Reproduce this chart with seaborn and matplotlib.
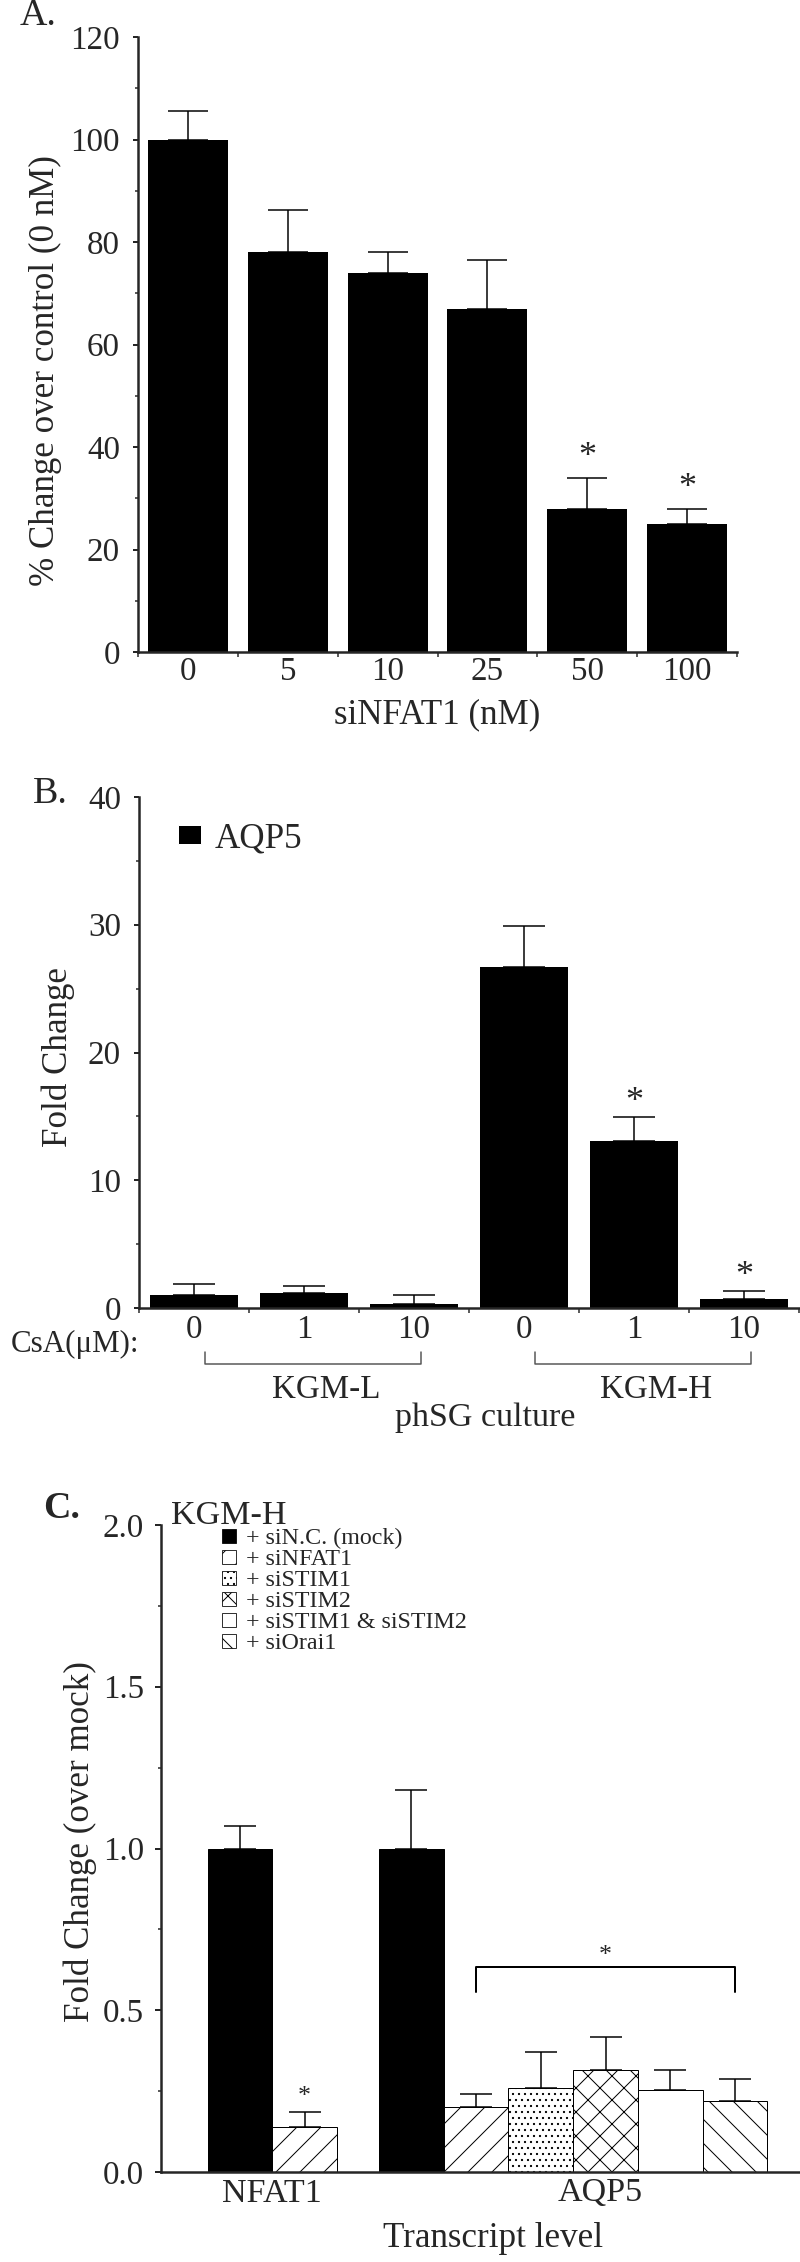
import numpy as np
import pandas as pd
import matplotlib
matplotlib.use('Agg')
import matplotlib.pyplot as plt
import matplotlib.transforms as mtransforms
from matplotlib.patches import Patch
from matplotlib.ticker import MultipleLocator, FormatStrFormatter
import seaborn as sns

# ---- data: panel A (siNFAT1 dose) ----
a_doses = ['0', '5', '10', '25', '50', '100']
a_values = [100, 78, 74, 67, 28, 25]
a_err = [5.6, 8.3, 4.0, 9.5, 6.0, 3.0]
a_sig = [False, False, False, False, True, True]

# ---- data: panel B (CsA in KGM-L / KGM-H) ----
b_csa = ['0', '1', '10', '0', '1', '10']
b_media = ['KGM-L', 'KGM-L', 'KGM-L', 'KGM-H', 'KGM-H', 'KGM-H']
b_values = [1.0, 1.2, 0.29, 26.7, 13.1, 0.68]
b_err = [0.91, 0.52, 0.70, 3.2, 1.85, 0.63]
b_sig = [False, False, False, False, True, True]

# ---- data: panel C (knockdowns, transcript level) ----
c_treatments = ['+ siN.C. (mock)', '+ siNFAT1', '+ siSTIM1', '+ siSTIM2',
                '+ siSTIM1 & siSTIM2', '+ siOrai1']
c_groups = ['NFAT1', 'AQP5']
c_nfat1_treat = ['+ siN.C. (mock)', '+ siNFAT1']
c_nfat1_values = [1.0, 0.14]
c_nfat1_err = [0.07, 0.045]
c_nfat1_sig = [False, True]
c_aqp5_treat = c_treatments
c_aqp5_values = [1.0, 0.20, 0.26, 0.316, 0.253, 0.22]
c_aqp5_err = [0.18, 0.041, 0.11, 0.10, 0.062, 0.067]

# styles
c_fill = {t: 'white' for t in c_treatments}
c_fill['+ siN.C. (mock)'] = 'black'
c_hatch = {'+ siN.C. (mock)': '', '+ siNFAT1': '/', '+ siSTIM1': '..',
           '+ siSTIM2': 'x', '+ siSTIM1 & siSTIM2': '', '+ siOrai1': '\\'}

sns.set_style('ticks')
plt.rcParams['font.family'] = ['Liberation Serif', 'DejaVu Serif']
plt.rcParams['hatch.linewidth'] = 1.0
plt.rcParams['axes.linewidth'] = 2.5

W, H = 800, 2262
fig = plt.figure(figsize=(W / 72, H / 72), dpi=72)


def px_axes(left, top, right, bottom):
    return fig.add_axes([left / W, 1 - bottom / H, (right - left) / W, (bottom - top) / H])


def style_axis(ax, tick_size):
    sns.despine(ax=ax)
    for s in ['left', 'bottom']:
        ax.spines[s].set_linewidth(2.5)
    ax.tick_params(axis='y', which='major', length=5, width=2, pad=13, labelsize=tick_size)
    ax.tick_params(axis='y', which='minor', length=3, width=1.5)


# ================= Panel A =================
ax_a = px_axes(138, 37, 737, 652)
df_a = pd.DataFrame({'dose': a_doses, 'value': a_values})
sns.barplot(data=df_a, x='dose', y='value', order=a_doses, color='black',
            saturation=1, width=0.8, errorbar=None, linewidth=0, ax=ax_a)
xa = np.arange(len(a_values))
ax_a.errorbar(xa, a_values, yerr=[np.zeros(len(a_err)), a_err], fmt='none',
              ecolor='black', elinewidth=1.5, capsize=20, capthick=1.5)
for i, s in enumerate(a_sig):
    if s:
        ax_a.annotate('*', xy=(i, a_values[i] + a_err[i]), xytext=(0, 12),
                      textcoords='offset points', ha='center', va='baseline', fontsize=36)
ax_a.set_xlim(-0.5, len(a_values) - 0.5)
ax_a.set_ylim(0, 120)
ax_a.yaxis.set_major_locator(MultipleLocator(20))
ax_a.yaxis.set_minor_locator(MultipleLocator(10))
ax_a.set_xticks(np.arange(-0.5, len(a_values), 1), minor=True)
style_axis(ax_a, 33)
ax_a.tick_params(axis='x', which='major', length=0, pad=4, labelsize=33)
ax_a.tick_params(axis='x', which='minor', length=5, width=1.5)
ax_a.set_xlabel('siNFAT1 (nM)', fontsize=35)
ax_a.set_ylabel('% Change over control (0 nM)', fontsize=35)
ax_a.xaxis.set_label_coords(0.5, -0.075)
ax_a.yaxis.set_label_coords(-0.127, 0.457)

# ================= Panel B =================
ax_b = px_axes(139, 797, 799, 1308)
b_keys = [m + ' ' + c for m, c in zip(b_media, b_csa)]
df_b = pd.DataFrame({'key': b_keys, 'value': b_values})
sns.barplot(data=df_b, x='key', y='value', order=b_keys, color='black',
            saturation=1, width=0.8, errorbar=None, linewidth=0, ax=ax_b)
xb = np.arange(len(b_values))
ax_b.errorbar(xb, b_values, yerr=[np.zeros(len(b_err)), b_err], fmt='none',
              ecolor='black', elinewidth=1.5, capsize=21, capthick=1.5)
for i, s in enumerate(b_sig):
    if s:
        ax_b.annotate('*', xy=(i, b_values[i] + b_err[i]), xytext=(0, 6),
                      textcoords='offset points', ha='center', va='baseline', fontsize=36)
ax_b.set_xlim(-0.5, len(b_values) - 0.5)
ax_b.set_ylim(0, 40)
ax_b.yaxis.set_major_locator(MultipleLocator(10))
ax_b.yaxis.set_minor_locator(MultipleLocator(5))
ax_b.set_xticks(xb)
ax_b.set_xticklabels(b_csa)
ax_b.set_xticks(np.arange(-0.5, len(b_values), 1), minor=True)
style_axis(ax_b, 33)
ax_b.tick_params(axis='x', which='major', length=0, pad=6, labelsize=33)
ax_b.tick_params(axis='x', which='minor', length=5, width=1.5)
ax_b.set_ylabel('Fold Change', fontsize=35)
ax_b.yaxis.set_label_coords(-0.097, 0.491)
ax_b.set_xlabel('phSG culture', fontsize=34)
ax_b.xaxis.set_label_coords(0.524, -0.185)
ax_b.text(0.0, -0.072, 'CsA(μM):', transform=ax_b.transAxes, ha='right',
          va='center', fontsize=31)
ax_b.legend(handles=[Patch(facecolor='black', label='AQP5')], loc='upper left',
            bbox_to_anchor=(0.059, 0.951), frameon=False, fontsize=35,
            handlelength=0.66, handleheight=0.46, handletextpad=0.4,
            borderpad=0, borderaxespad=0)
trans_b = mtransforms.blended_transform_factory(ax_b.transData, ax_b.transAxes)
for m in ['KGM-L', 'KGM-H']:
    idx = [i for i, mm in enumerate(b_media) if mm == m]
    x0, x1 = idx[0] + 0.1, idx[-1] + 0.06
    ax_b.plot([x0, x0, x1, x1], [-0.086, -0.110, -0.110, -0.086], color='#555555',
              lw=1.5, transform=trans_b, clip_on=False)
    ax_b.text((x0 + x1) / 2 + 0.12, -0.160, m, transform=trans_b, ha='center',
              va='center', fontsize=33)

# ================= Panel C =================
ax_c = px_axes(161, 1525, 800, 2172)
group_gap = 0.65
rows = []
slot = 0
for g, (treats, vals, errs) in enumerate([(c_nfat1_treat, c_nfat1_values, c_nfat1_err),
                                          (c_aqp5_treat, c_aqp5_values, c_aqp5_err)]):
    for t, v, e in zip(treats, vals, errs):
        rows.append({'group': c_groups[g], 'treatment': t, 'value': v, 'err': e,
                     'pos': slot + g * group_gap})
        slot += 1
df_c = pd.DataFrame(rows)
sns.barplot(data=df_c, x='pos', y='value', hue='treatment', hue_order=c_treatments,
            palette=c_fill, native_scale=True, dodge=False, width=1, saturation=1,
            errorbar=None, edgecolor='black', linewidth=1, legend=False, ax=ax_c)
for p in ax_c.patches:
    cx = p.get_x() + p.get_width() / 2
    r = df_c.iloc[(df_c['pos'] - cx).abs().argmin()]
    p.set_hatch(c_hatch[r['treatment']])
    p.set_edgecolor('black')
ax_c.errorbar(df_c['pos'], df_c['value'], yerr=[np.zeros(len(df_c)), df_c['err']],
              fmt='none', ecolor='black', elinewidth=1.5, capsize=16, capthick=1.5)
# significance star on NFAT1 knockdown
nf = df_c[df_c['group'] == 'NFAT1'].reset_index(drop=True)
for i, s in enumerate(c_nfat1_sig):
    if s:
        ax_c.annotate('*', xy=(nf['pos'][i], nf['value'][i] + nf['err'][i]), xytext=(0, 9),
                      textcoords='offset points', ha='center', va='baseline', fontsize=26)
# bracket over AQP5 knockdowns
aq = df_c[df_c['group'] == 'AQP5'].reset_index(drop=True)
p1, p5 = aq['pos'].iloc[1], aq['pos'].iloc[-1]
ax_c.plot([p1, p1, p5, p5], [0.556, 0.634, 0.634, 0.556], color='black', lw=2)
ax_c.annotate('*', xy=((p1 + p5) / 2, 0.634), xytext=(0, 5), textcoords='offset points',
              ha='center', va='baseline', fontsize=26)

ax_c.set_xlim(df_c['pos'].min() - 1.22, df_c['pos'].min() + 8.655)
ax_c.set_ylim(0, 2.0)
ax_c.yaxis.set_major_locator(MultipleLocator(0.5))
ax_c.yaxis.set_minor_locator(MultipleLocator(0.25))
ax_c.yaxis.set_major_formatter(FormatStrFormatter('%.1f'))
label_shift = [0, 0.42]
centers = [df_c[df_c['group'] == g]['pos'].mean() + sh for g, sh in zip(c_groups, label_shift)]
ax_c.set_xticks(centers)
ax_c.set_xticklabels(c_groups)
style_axis(ax_c, 33)
ax_c.tick_params(axis='y', which='major', length=6, pad=11)
ax_c.tick_params(axis='x', which='major', length=0, pad=6, labelsize=34)
ax_c.set_xlabel('Transcript level', fontsize=35)
ax_c.xaxis.set_label_coords(0.52, -0.077)
ax_c.set_ylabel('Fold Change (over mock)', fontsize=35)
ax_c.yaxis.set_label_coords(-0.10, 0.51)
ax_c.text(0.015, 1.015, 'KGM-H', transform=ax_c.transAxes, ha='left', va='center',
          fontsize=34)
handles = [Patch(facecolor=c_fill[t], edgecolor='black', hatch=c_hatch[t], linewidth=0.8,
                 label=t) for t in c_treatments]
ax_c.legend(handles=handles, loc='upper left', bbox_to_anchor=(0.095, 0.995),
            frameon=False, fontsize=24, handlelength=0.6, handleheight=0.55,
            handletextpad=0.4, labelspacing=0.0, borderpad=0, borderaxespad=0)

# panel letters
fig.text(20 / W, 1 - 16 / H, 'A.', fontsize=38, va='center')
fig.text(33 / W, 1 - 794 / H, 'B.', fontsize=38, va='center')
fig.text(43 / W, 1 - 1508 / H, 'C.', fontsize=38, va='center', fontweight='bold')

fig.savefig('out.png', dpi=72)
